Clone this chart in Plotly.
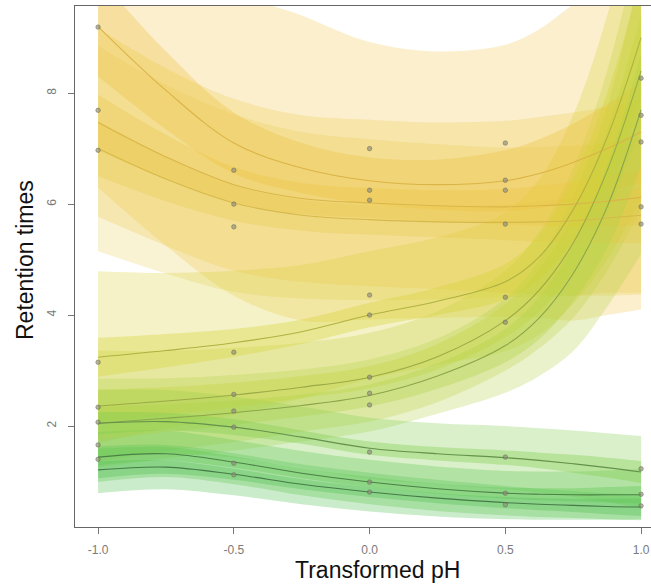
import plotly.graph_objects as go

# pH grid on which the fitted curves and their bands are tabulated
ph_grid = [-1.0, -0.75, -0.5, -0.25, 0.0, 0.25, 0.5, 0.625, 0.75, 0.875, 1.0]

# fitted retention time per compound
fit_y1 = [9.20, 8.05, 7.10, 6.65, 6.42, 6.35, 6.42, 6.55, 6.75, 7.00, 7.30]
fit_y2 = [7.47, 6.85, 6.35, 6.10, 6.02, 5.97, 5.95, 5.97, 6.00, 6.05, 6.12]
fit_y3 = [7.00, 6.45, 6.02, 5.80, 5.72, 5.68, 5.67, 5.68, 5.70, 5.75, 5.80]
fit_l1 = [3.24, 3.36, 3.50, 3.70, 4.00, 4.25, 4.60, 5.05, 5.90, 7.20, 9.00]
fit_l2 = [2.36, 2.45, 2.56, 2.70, 2.88, 3.25, 3.90, 4.45, 5.30, 6.60, 8.40]
fit_l3 = [2.05, 2.14, 2.24, 2.37, 2.55, 2.90, 3.45, 3.95, 4.75, 5.95, 7.70]
fit_g1 = [2.05, 2.08, 1.98, 1.80, 1.60, 1.50, 1.43, 1.38, 1.32, 1.25, 1.17]
fit_g2 = [1.44, 1.50, 1.35, 1.15, 0.99, 0.87, 0.79, 0.77, 0.76, 0.76, 0.76]
fit_g3 = [1.21, 1.26, 1.13, 0.95, 0.81, 0.70, 0.62, 0.59, 0.57, 0.55, 0.54]

# half-width of the confidence band of the mean
ci_y1 = [0.90, 0.70, 0.55, 0.45, 0.42, 0.45, 0.55, 0.62, 0.70, 0.80, 0.90]
ci_y2 = [0.50, 0.40, 0.32, 0.28, 0.27, 0.28, 0.32, 0.36, 0.40, 0.45, 0.50]
ci_y3 = [0.50, 0.40, 0.32, 0.28, 0.27, 0.28, 0.32, 0.36, 0.40, 0.45, 0.50]
ci_l1 = [0.35, 0.30, 0.25, 0.22, 0.22, 0.25, 0.32, 0.40, 0.55, 0.80, 1.10]
ci_l2 = [0.30, 0.25, 0.22, 0.20, 0.20, 0.23, 0.30, 0.38, 0.50, 0.75, 1.00]
ci_l3 = [0.30, 0.25, 0.22, 0.20, 0.20, 0.23, 0.30, 0.38, 0.50, 0.75, 1.00]
ci_g1 = [0.20, 0.16, 0.14, 0.12, 0.12, 0.12, 0.13, 0.14, 0.16, 0.18, 0.20]
ci_g2 = [0.15, 0.12, 0.10, 0.09, 0.09, 0.09, 0.10, 0.11, 0.12, 0.14, 0.16]
ci_g3 = [0.15, 0.12, 0.10, 0.09, 0.09, 0.09, 0.10, 0.11, 0.12, 0.14, 0.16]

# half-width of the prediction band
pi_y1 = [2.90, 2.80, 2.75, 2.75, 2.50, 2.40, 2.45, 2.60, 2.85, 3.00, 3.20]
pi_y2 = [1.70, 1.60, 1.55, 1.50, 1.50, 1.50, 1.55, 1.60, 1.65, 1.70, 1.75]
pi_y3 = [1.85, 1.70, 1.60, 1.50, 1.45, 1.40, 1.35, 1.35, 1.35, 1.35, 1.40]
pi_l1 = [1.55, 1.40, 1.30, 1.20, 1.15, 1.15, 1.25, 1.40, 1.70, 2.20, 2.90]
pi_l2 = [1.00, 0.90, 0.85, 0.80, 0.80, 0.82, 0.90, 1.05, 1.35, 1.80, 2.50]
pi_l3 = [0.80, 0.72, 0.68, 0.65, 0.65, 0.68, 0.85, 1.05, 1.40, 1.80, 2.60]
pi_g1 = [0.60, 0.57, 0.55, 0.55, 0.55, 0.55, 0.57, 0.58, 0.60, 0.62, 0.65]
pi_g2 = [0.45, 0.42, 0.40, 0.40, 0.40, 0.40, 0.40, 0.41, 0.42, 0.44, 0.46]
pi_g3 = [0.42, 0.40, 0.38, 0.36, 0.35, 0.33, 0.30, 0.28, 0.26, 0.24, 0.22]

# observed retention times
obs_ph = [-1.0] * 8 + [-0.5] * 9 + [0.0] * 11 + [0.5] * 9 + [1.0] * 8
obs_rt = [9.19, 7.69, 6.97, 3.15, 2.34, 2.07, 1.66, 1.40,
          6.61, 6.00, 5.59, 3.33, 2.57, 2.27, 1.98, 1.33, 1.12,
          7.00, 6.25, 6.07, 4.36, 4.00, 2.88, 2.59, 2.38, 1.53, 0.99, 0.81,
          7.10, 6.43, 6.25, 5.64, 4.32, 3.87, 1.44, 0.79, 0.58,
          8.27, 7.60, 7.12, 5.95, 5.64, 1.23, 0.77, 0.56]

x_ticks = [-1.0, -0.5, 0.0, 0.5, 1.0]
x_tick_text = ["-1.0", "-0.5", "0.0", "0.5", "1.0"]
y_ticks = [2, 4, 6, 8]
y_tick_text = ["2", "4", "6", "8"]

# (fit, ci half-width, pi half-width, band rgb, pi alpha, ci alpha, line colour)
compounds = [
    (fit_y1, ci_y1, pi_y1, (238, 188, 50), 0.24, 0.30, "rgb(218,180,70)"),
    (fit_y2, ci_y2, pi_y2, (236, 195, 60), 0.24, 0.30, "rgb(218,182,72)"),
    (fit_y3, ci_y3, pi_y3, (232, 200, 70), 0.24, 0.30, "rgb(215,185,75)"),
    (fit_l1, ci_l1, pi_l1, (215, 210, 50), 0.28, 0.34, "rgb(175,178,65)"),
    (fit_l2, ci_l2, pi_l2, (195, 210, 60), 0.28, 0.34, "rgb(155,170,70)"),
    (fit_l3, ci_l3, pi_l3, (175, 210, 70), 0.28, 0.34, "rgb(140,165,75)"),
    (fit_g1, ci_g1, pi_g1, (130, 205, 80), 0.30, 0.38, "rgb(100,145,75)"),
    (fit_g2, ci_g2, pi_g2, (100, 200, 85), 0.32, 0.40, "rgb(75,128,70)"),
    (fit_g3, ci_g3, pi_g3, (90, 195, 90), 0.32, 0.40, "rgb(70,122,72)"),
]

fig = go.Figure()


def add_band(fit, half, rgb, alpha):
    lower = [f - h for f, h in zip(fit, half)]
    upper = [f + h for f, h in zip(fit, half)]
    fig.add_trace(go.Scatter(x=ph_grid, y=lower, mode="lines",
                             line=dict(width=0, shape="spline"),
                             hoverinfo="skip", showlegend=False))
    fig.add_trace(go.Scatter(x=ph_grid, y=upper, mode="lines",
                             line=dict(width=0, shape="spline"),
                             fill="tonexty",
                             fillcolor="rgba(%d,%d,%d,%.2f)" % (rgb + (alpha,)),
                             hoverinfo="skip", showlegend=False))


# prediction bands, then confidence bands
for fit, ci, pi, rgb, a_pi, a_ci, lc in compounds:
    add_band(fit, pi, rgb, a_pi)
for fit, ci, pi, rgb, a_pi, a_ci, lc in compounds:
    add_band(fit, ci, rgb, a_ci)

# fitted curves
for fit, ci, pi, rgb, a_pi, a_ci, lc in compounds:
    fig.add_trace(go.Scatter(x=ph_grid, y=fit, mode="lines",
                             line=dict(width=1.1, color=lc, shape="spline"),
                             hoverinfo="skip", showlegend=False))

# observations
fig.add_trace(go.Scatter(x=obs_ph, y=obs_rt, mode="markers",
                         marker=dict(size=4.5, color="rgba(140,140,120,0.65)",
                                     line=dict(width=0.7, color="rgba(105,105,90,0.7)")),
                         showlegend=False))

axis_font = dict(family="Liberation Sans, Arial, sans-serif", size=12, color="#7a7a7a")

fig.update_xaxes(range=[-1.085, 1.0365], tickvals=x_ticks, ticktext=x_tick_text,
                 ticks="outside", ticklen=6, tickcolor="#777", tickwidth=1,
                 showline=True, linecolor="#666", linewidth=1, mirror=True,
                 showgrid=False, zeroline=False, tickfont=axis_font,
                 ticklabelstandoff=6)
fig.update_yaxes(range=[0.18, 9.57], tickvals=y_ticks, ticktext=y_tick_text,
                 ticks="outside", ticklen=6, tickcolor="#777", tickwidth=1,
                 showline=True, linecolor="#666", linewidth=1, mirror=False,
                 showgrid=False, zeroline=False, tickfont=axis_font,
                 tickangle=-90, ticklabelstandoff=7)

title_font = dict(family="Liberation Sans, Arial, sans-serif", size=23, color="#111")
fig.add_annotation(text="Transformed pH", xref="paper", yref="paper",
                   x=0.525, y=-0.0825, xanchor="center", yanchor="middle",
                   showarrow=False, font=title_font)
fig.add_annotation(text="Retention times", xref="paper", yref="paper",
                   x=-0.0868, y=0.5125, xanchor="center", yanchor="middle",
                   textangle=-90, showarrow=False, font=title_font)

fig.update_layout(width=651, height=588,
                  margin=dict(l=75, r=0, t=6, b=61),
                  paper_bgcolor="white", plot_bgcolor="white")

fig.write_html("out.html")
